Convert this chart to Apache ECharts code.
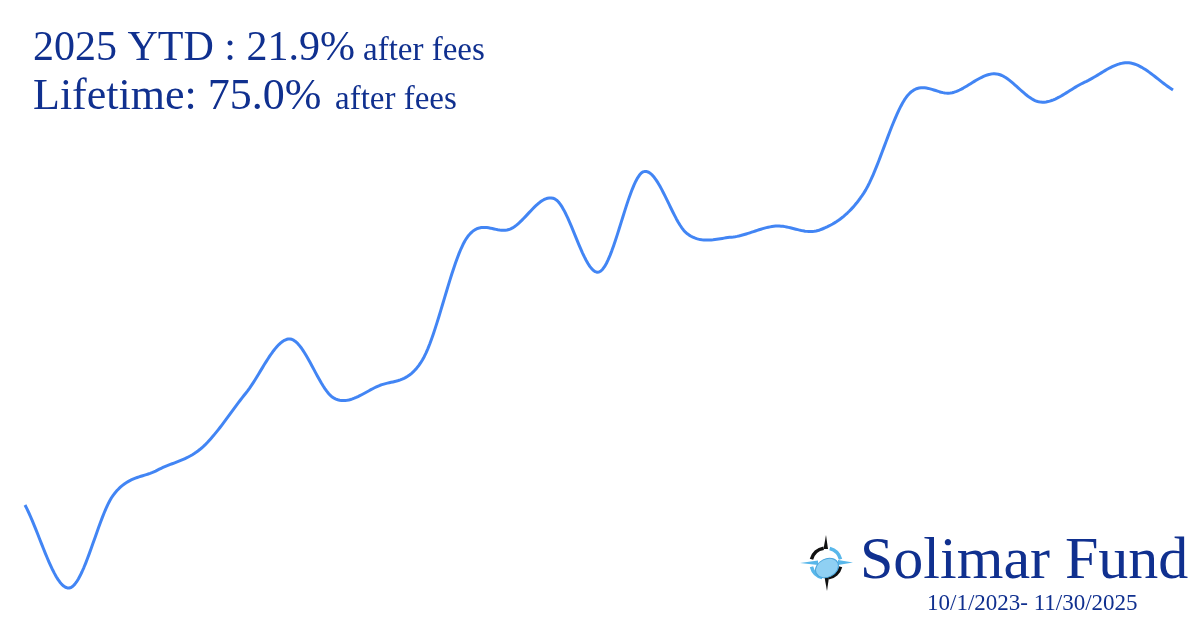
<!DOCTYPE html>
<html>
<head>
<meta charset="utf-8">
<script src="https://cdn.jsdelivr.net/npm/echarts@6/dist/echarts.min.js"></script>
<style>
html,body{margin:0;padding:0;background:#fff;}
#c{width:1200px;height:630px;}
</style>
</head>
<body>
<div id="c"></div>
<script>
// Month-end dates, 9/30/2023 .. 11/30/2025
const months = ['2023-09','2023-10','2023-11','2023-12','2024-01','2024-02','2024-03','2024-04','2024-05','2024-06','2024-07','2024-08','2024-09','2024-10','2024-11','2024-12','2025-01','2025-02','2025-03','2025-04','2025-05','2025-06','2025-07','2025-08','2025-09','2025-10','2025-11'];
// Cumulative return (%)
const cumulativeReturn = [0, -15.0, 1.8, 6.3, 10.3, 20.2, 30.0, 19.3, 21.5, 26.2, 48.2, 49.9, 55.3, 42.1, 60.2, 49.0, 48.4, 50.4, 49.7, 56.4, 74.1, 74.5, 77.9, 72.8, 76.4, 79.9, 75.0];

const headline1 = '2025 YTD : 21.9%';
const headline2 = 'Lifetime: 75.0%';
const suffix = 'after fees';
const brand = 'Solimar Fund';
const period = '10/1/2023- 11/30/2025';

const navy = '#10308f';
const serif = '"Liberation Serif", "DejaVu Serif", serif';

const chart = echarts.init(document.getElementById('c'), null, {renderer: 'canvas'});

function txt(text, x, y, size, extra) {
  return Object.assign({
    type: 'text', z: 10,
    style: {text: text, x: x, y: y, fill: navy, fontSize: size, fontFamily: serif,
            align: 'left', verticalAlign: 'middle', textAlign: 'left', textVerticalAlign: 'middle'}
  }, extra || {});
}

const lightBlue = '#58b7ea';
const logo = [
  {type: 'polygon', shape: {points: [[800,563],[818,560.5],[818,565]]}, style: {fill: lightBlue}},
  {type: 'polygon', shape: {points: [[853,562.5],[838,560],[838,565]]}, style: {fill: lightBlue}},
  {type: 'arc', shape: {cx: 826, cy: 563, r: 15, startAngle: -Math.PI*0.42, endAngle: -Math.PI*0.08}, style: {stroke: lightBlue, lineWidth: 3.5, fill: null}},
  {type: 'arc', shape: {cx: 826, cy: 563, r: 15, startAngle: Math.PI*0.58, endAngle: Math.PI*0.92}, style: {stroke: lightBlue, lineWidth: 3.5, fill: null}},
  {type: 'arc', shape: {cx: 826, cy: 563, r: 15, startAngle: Math.PI*1.08, endAngle: Math.PI*1.45}, style: {stroke: '#111', lineWidth: 3.5, fill: null}},
  {type: 'polygon', shape: {points: [[826,535],[823.5,549],[828,549]]}, style: {fill: '#111'}},
  {type: 'arc', shape: {cx: 826, cy: 563, r: 15, startAngle: Math.PI*0.08, endAngle: Math.PI*0.45}, style: {stroke: '#111', lineWidth: 3.5, fill: null}},
  {type: 'polygon', shape: {points: [[827,591],[824.5,577],[829,577]]}, style: {fill: '#111'}},
  {type: 'ellipse', shape: {cx: 827, cy: 568, rx: 12, ry: 9}, rotation: 0.45, originX: 827, originY: 568, style: {fill: '#8fd0f3', stroke: '#4aa6dc', lineWidth: 1}}
];

// Catmull-Rom spline through the data points, in pixel space via the axes
function renderCurve(params, api) {
  if (params.dataIndex !== 0) return null;
  const P = cumulativeReturn.map((v, i) => api.coord([i, v]));
  const n = P.length;
  const tan = P.map((p, i) => {
    const a = P[Math.max(0, i - 1)], b = P[Math.min(n - 1, i + 1)];
    const k = (i === 0 || i === n - 1) ? 1 : 0.5;
    return [(b[0] - a[0]) * k, (b[1] - a[1]) * k];
  });
  const pts = [];
  const steps = 24;
  for (let i = 0; i < n - 1; i++) {
    for (let s = 0; s < steps; s++) {
      const t = s / steps, t2 = t * t, t3 = t2 * t;
      const h00 = 2*t3 - 3*t2 + 1, h10 = t3 - 2*t2 + t, h01 = -2*t3 + 3*t2, h11 = t3 - t2;
      pts.push([
        h00*P[i][0] + h10*tan[i][0] + h01*P[i+1][0] + h11*tan[i+1][0],
        h00*P[i][1] + h10*tan[i][1] + h01*P[i+1][1] + h11*tan[i+1][1]
      ]);
    }
  }
  pts.push(P[n - 1]);
  return {
    type: 'polyline',
    shape: {points: pts},
    style: {stroke: '#4285f4', lineWidth: 3, fill: null, lineJoin: 'round', lineCap: 'butt'}
  };
}

chart.setOption({
  animation: false,
  backgroundColor: '#ffffff',
  grid: {left: 25, right: 27, top: 34.6, bottom: 14.3, containLabel: false},
  xAxis: {type: 'category', data: months, boundaryGap: false, show: false},
  yAxis: {type: 'value', min: -20, max: 85, show: false},
  series: [{
    type: 'custom',
    data: cumulativeReturn.map((v, i) => [i, v]),
    encode: {x: 0, y: 1},
    clip: false,
    renderItem: renderCurve
  }],
  graphic: [
    txt(headline1, 33, 48.7, 42),
    txt(suffix, 363, 51.8, 33),
    txt(headline2, 33, 97, 44),
    txt(suffix, 335, 100.8, 33),
    txt(brand, 860, 562.6, 60),
    txt(period, 927, 604.2, 23)
  ].concat(logo)
});
</script>
</body>
</html>
